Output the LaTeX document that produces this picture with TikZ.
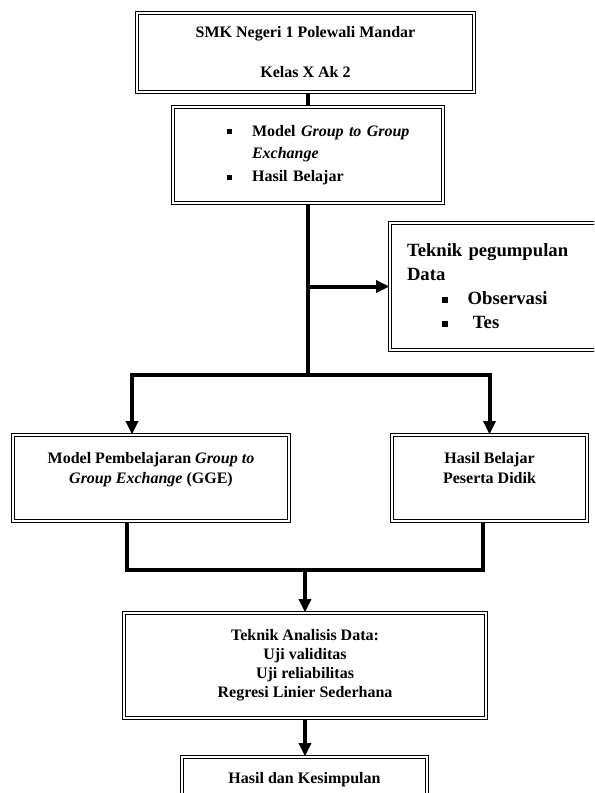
\documentclass[tikz,border=0pt]{standalone}
\usepackage{fontspec}
\setmainfont{Liberation Serif}
\usepackage{tikz}
\usetikzlibrary{arrows.meta, positioning, calc}
\newcommand{\sqbul}{\rule[0.25ex]{0.32em}{0.32em}}

\begin{document}
\begin{tikzpicture}[x=0.75pt, y=-0.75pt,
    dbox/.style={rectangle, draw=black, line width=0.8pt, double, double distance=1.4pt, font=\bfseries\fontsize{12}{15}\selectfont, align=center, inner sep=2pt},
    conn/.style={line width=3pt, color=black},
    arr/.style={-{Triangle[length=10pt, width=9pt]}, line width=3pt, color=black}
]
\useasboundingbox (0,0) rectangle (594,793);
\clip (0,0) rectangle (594,793);

% School and class
\node[dbox, minimum width=252.75pt, minimum height=59.25pt] (smk) at (305.5,52.5) {SMK Negeri 1 Polewali Mandar\\[15pt]Kelas X Ak 2};

% Variables
\node[dbox, minimum width=202.5pt, minimum height=72pt, text width=121.5pt, align=left, font=\bfseries\fontsize{12}{17}\selectfont] (model) at (308,155) {\mbox{\sqbul\hspace{15pt}Model \textit{Group to Group}}\\\hspace*{18.75pt}\textit{Exchange}\\\sqbul\hspace{15pt}Hasil Belajar};

% Data collection
\node[dbox, minimum width=165pt, minimum height=95.25pt, text width=139.5pt, align=left, font=\bfseries\fontsize{14}{18}\selectfont] (tek) at (500,286.5) {Teknik pegumpulan\\Data\\\hspace*{26pt}\sqbul\hspace{15pt}Observasi\\\hspace*{26pt}\sqbul\hspace{19pt}Tes};

% Two branches
\node[dbox, minimum width=207pt, minimum height=64.5pt] (gge) at (151,478) {Model Pembelajaran \textit{Group to}\\\textit{Group Exchange} (GGE)\\~};
\node[dbox, minimum width=146.25pt, minimum height=64.5pt] (hbd) at (489.5,478) {Hasil Belajar\\Peserta Didik\\~};

% Analysis and result
\node[dbox, minimum width=271.5pt, minimum height=78.75pt, font=\bfseries\fontsize{12}{14.25}\selectfont] (ana) at (305,665.5) {Teknik Analisis Data:\\Uji validitas\\Uji reliabilitas\\Regresi Linier Sederhana};
\node[dbox, minimum width=183.75pt, minimum height=54.75pt] (hk) at (304.5,793.5) {Hasil dan Kesimpulan\\[9pt]~};

% Connectors
\draw[conn] (model.north) -- (model.north |- smk.south);
\coordinate (j1) at (308,375);
\draw[conn] (model.south) -- (j1);
\draw[arr] (model.south |- tek.west) -- (tek.west);
\draw[arr] (j1) -| ([xshift=-14.25pt]gge.north);
\draw[arr] (j1) -| (hbd.north);

\coordinate (j2) at (305,570);
\draw[conn] ([xshift=-18pt]gge.south) |- (j2) -| ([xshift=-4.875pt]hbd.south);
\draw[arr] (j2) -- (ana.north);
\draw[arr] (ana.south) -- (ana.south |- hk.north);

\end{tikzpicture}
\end{document}
